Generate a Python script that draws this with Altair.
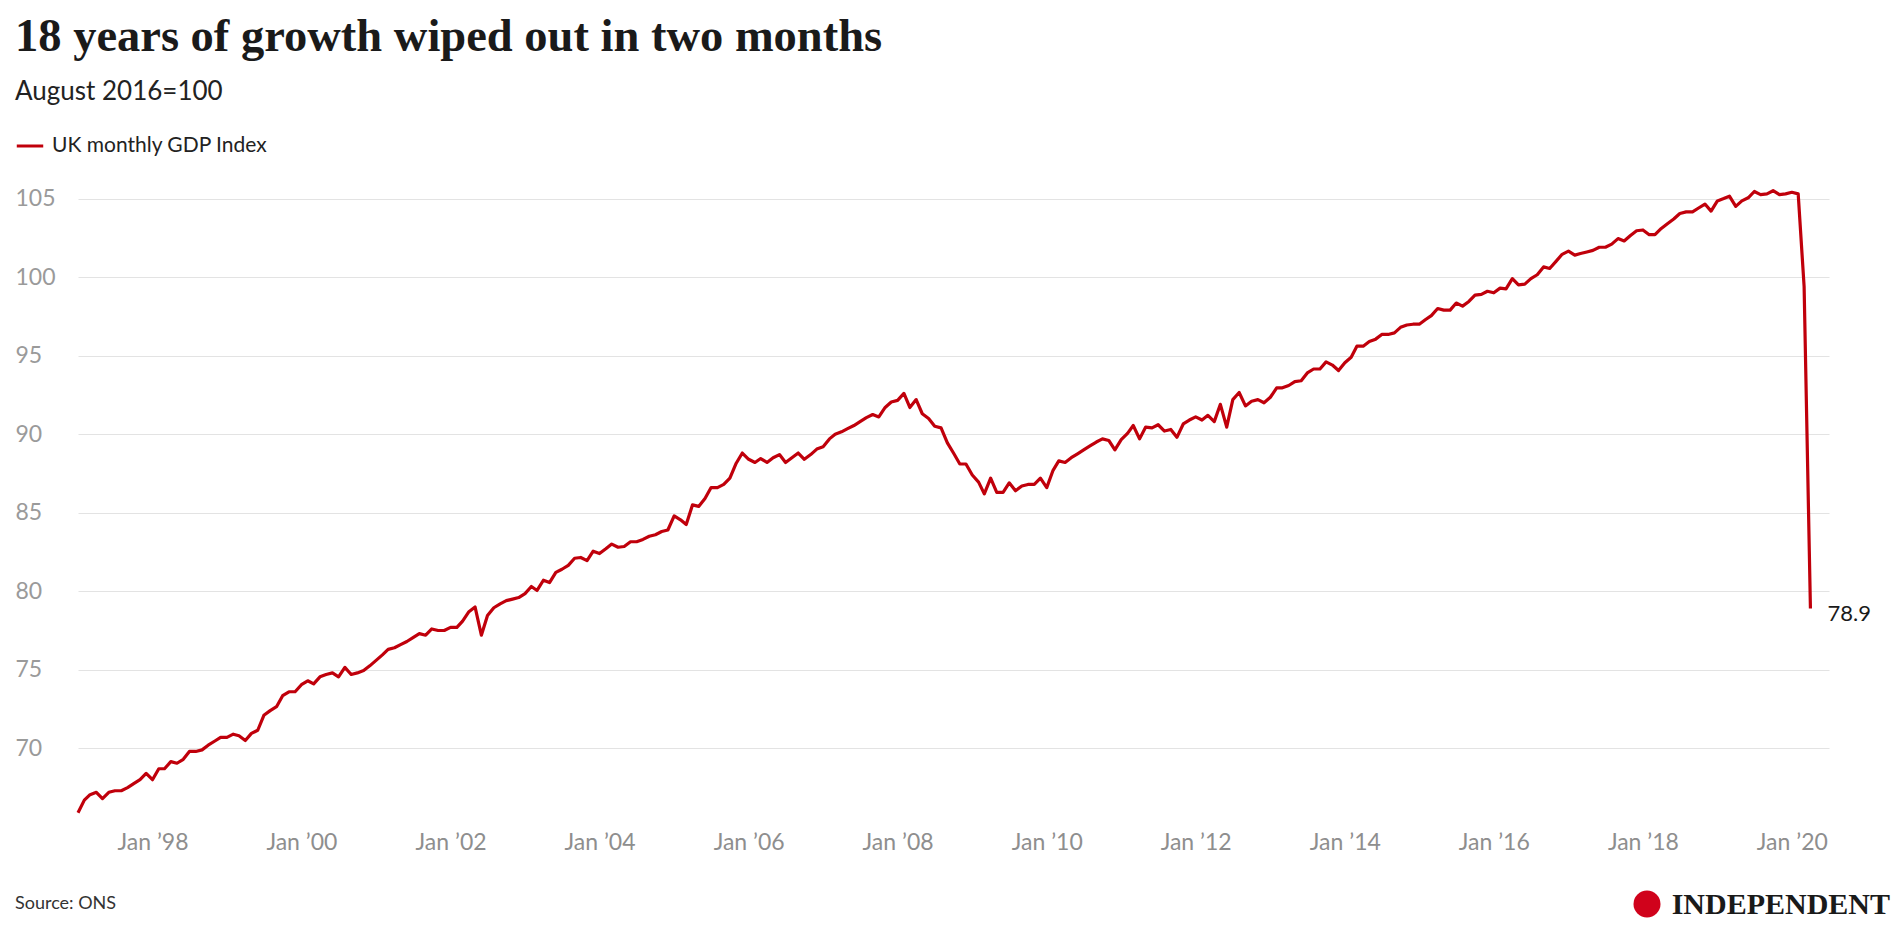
import altair as alt
import pandas as pd

title_text = "18 years of growth wiped out in two months"
subtitle_text = "August 2016=100"
series_name = "UK monthly GDP Index"
source_text = "Source: ONS"
brand_text = "INDEPENDENT"

first_month = "1997-01-01"

gdp_1997_2002 = [
    65.9, 66.7, 67.05, 67.2, 66.8, 67.2, 67.3, 67.3, 67.5, 67.75, 68.0, 68.4,
    68.0, 68.7, 68.7, 69.15, 69.05, 69.3, 69.8, 69.8, 69.9, 70.2, 70.45, 70.7,
    70.7, 70.9, 70.8, 70.5, 70.95, 71.15, 72.1, 72.4, 72.65, 73.35, 73.6, 73.6,
    74.05, 74.3, 74.1, 74.55, 74.7, 74.8, 74.55, 75.15, 74.7, 74.8, 74.95, 75.25,
    75.6, 75.95, 76.3, 76.4, 76.6, 76.8, 77.05, 77.3, 77.2, 77.6, 77.5, 77.5,
    77.7, 77.7, 78.1, 78.7, 79.0, 77.2, 78.45, 78.95, 79.2, 79.4, 79.5, 79.6,
]
gdp_2003_2008 = [
    79.85, 80.3, 80.05, 80.7, 80.55, 81.2, 81.4, 81.65, 82.1, 82.15, 81.95, 82.55,
    82.4, 82.7, 83.0, 82.8, 82.85, 83.15, 83.15, 83.3, 83.5, 83.6, 83.8, 83.9,
    84.8, 84.55, 84.25, 85.5, 85.4, 85.9, 86.6, 86.6, 86.8, 87.2, 88.15, 88.8,
    88.4, 88.2, 88.45, 88.2, 88.5, 88.7, 88.2, 88.5, 88.8, 88.4, 88.7, 89.05,
    89.2, 89.7, 90.0, 90.15, 90.35, 90.55, 90.8, 91.05, 91.25, 91.1, 91.7, 92.05,
    92.15, 92.6, 91.7, 92.2, 91.3, 91.0, 90.5, 90.4, 89.45, 88.8, 88.1, 88.1,
]
gdp_2009_2014 = [
    87.4, 86.95, 86.2, 87.2, 86.3, 86.3, 86.9, 86.4, 86.7, 86.8, 86.8, 87.2,
    86.6, 87.7, 88.3, 88.2, 88.5, 88.75, 89.0, 89.25, 89.5, 89.7, 89.6, 89.0,
    89.65, 90.05, 90.55, 89.7, 90.45, 90.4, 90.6, 90.2, 90.3, 89.8, 90.65, 90.9,
    91.1, 90.9, 91.2, 90.8, 91.9, 90.45, 92.2, 92.65, 91.8, 92.1, 92.2, 92.0,
    92.35, 92.95, 92.95, 93.1, 93.35, 93.4, 93.9, 94.15, 94.15, 94.6, 94.4, 94.05,
    94.55, 94.9, 95.6, 95.6, 95.9, 96.05, 96.35, 96.35, 96.45, 96.8, 96.95, 97.0,
]
gdp_2015_2020 = [
    97.0, 97.3, 97.55, 98.0, 97.9, 97.9, 98.35, 98.15, 98.45, 98.85, 98.9, 99.1,
    99.0, 99.3, 99.25, 99.9, 99.5, 99.55, 99.9, 100.15, 100.65, 100.55, 101.0, 101.45,
    101.65, 101.4, 101.5, 101.6, 101.7, 101.9, 101.9, 102.1, 102.45, 102.3, 102.65, 102.95,
    103.0, 102.7, 102.7, 103.1, 103.4, 103.7, 104.05, 104.15, 104.15, 104.4, 104.65, 104.2,
    104.85, 105.0, 105.15, 104.5, 104.85, 105.05, 105.45, 105.25, 105.3, 105.5, 105.25, 105.3,
    105.4, 105.3, 99.4, 78.9,
]

y_ticks = [70, 75, 80, 85, 90, 95, 100, 105]
x_tick_years = [1998, 2000, 2002, 2004, 2006, 2008, 2010, 2012, 2014, 2016, 2018, 2020]

values = gdp_1997_2002 + gdp_2003_2008 + gdp_2009_2014 + gdp_2015_2020
months = pd.date_range(first_month, periods=len(values), freq="MS")
df = pd.DataFrame({
    "date": months.strftime("%Y-%m-%d"),
    "value": values,
    "series": series_name,
})
last_df = df.tail(1)

LINE_RED = "#c0000b"

x_enc = alt.X(
    "date:T",
    scale=alt.Scale(
        type="utc",
        domain=[alt.DateTime(year=1997, month=1, date=1, utc=True),
                alt.DateTime(year=2020, month=7, date=1, utc=True)],
    ),
    axis=alt.Axis(
        values=[alt.DateTime(year=y, month=1, date=1, utc=True) for y in x_tick_years],
        labelExpr="'Jan \u2019' + utcFormat(datum.value, '%y')",
        title=None, grid=False, domain=False, ticks=False,
        labelPadding=12, labelFontSize=23, labelColor="#8e8e8e", labelFont="Lato",
    ),
)
y_enc = alt.Y(
    "value:Q",
    scale=alt.Scale(domain=[65.5, 106.5], nice=False, zero=False),
    axis=alt.Axis(
        values=y_ticks, title=None, domain=False, ticks=False, tickSize=0,
        labelAlign="left", labelBaseline="middle", labelPadding=63,
        labelFontSize=23, labelColor="#9a9a9a", labelFont="Lato",
        grid=True, gridColor="#e3e3e3", gridWidth=1.2,
    ),
)

line = alt.Chart(df).mark_line(strokeWidth=3.2, strokeJoin="round").encode(
    x=x_enc,
    y=y_enc,
    color=alt.Color(
        "series:N",
        scale=alt.Scale(range=[LINE_RED]),
        legend=alt.Legend(
            title=None, orient="none", legendX=-63, legendY=-44,
            symbolType="stroke", symbolStrokeWidth=3, symbolSize=700,
            labelFontSize=21, labelFont="Lato", labelColor="#222222",
            labelOffset=7, labelLimit=0,
        ),
    ),
)

end_label = alt.Chart(last_df).mark_text(
    align="left", baseline="middle", dx=17, dy=5,
    fontSize=22, font="Lato", color="#1a1a1a",
).encode(x=x_enc, y=y_enc, text=alt.Text("value:Q", format=".1f"))

source = alt.Chart(pd.DataFrame({"t": [source_text]})).mark_text(
    align="left", baseline="middle", fontSize=18, font="Lato", color="#333333",
).encode(x=alt.value(-63), y=alt.value(729), text="t:N")

brand = alt.Chart(pd.DataFrame({"t": [brand_text]})).mark_text(
    align="right", baseline="middle", fontSize=30, fontWeight="bold",
    font="Liberation Serif", color="#1a1a1a",
).encode(x=alt.value(1812), y=alt.value(730), text="t:N")

emblem = alt.Chart(pd.DataFrame({"t": [brand_text]})).mark_point(
    shape="circle", filled=True, color="#d0021b", size=729, opacity=1,
).encode(x=alt.value(1569), y=alt.value(729))

chart = alt.layer(line, end_label, source, brand, emblem).properties(
    width=1751,
    height=644,
    autosize=alt.AutoSizeParams(type="none"),
    padding={"left": 70, "top": 167, "right": 64, "bottom": 115},
    title=alt.TitleParams(
        text=title_text, subtitle=subtitle_text,
        anchor="start", frame="bounds", offset=26,
        font="Liberation Serif", fontSize=46.5, fontWeight="bold", color="#1a1a1a",
        subtitleFont="Lato", subtitleFontSize=26, subtitleColor="#222222",
        subtitlePadding=19,
    ),
).configure_view(stroke=None)

chart.save("out.html", embed_options={"renderer": "svg", "actions": False})
